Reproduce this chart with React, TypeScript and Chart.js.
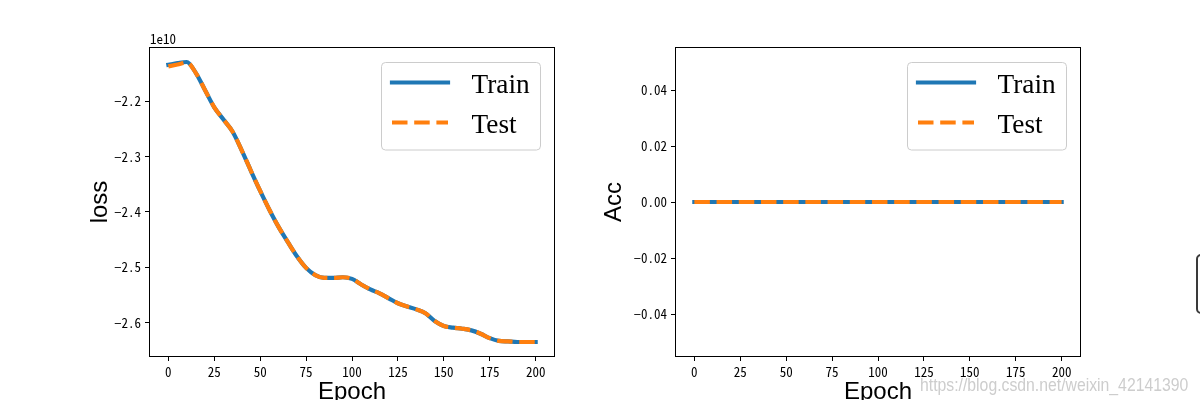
import React, { useEffect, useRef } from "react";
import { Chart, registerables } from "chart.js";

Chart.register(...registerables);

// ---- data -------------------------------------------------------------
const EPOCHS = [
  0, 5, 10, 15, 20, 25, 30, 35, 40, 45, 50, 55, 60, 65, 70, 75, 80, 85, 90, 95, 100,
  105, 110, 115, 120, 125, 130, 135, 140, 145, 150, 155, 160, 165, 170, 175, 180, 185, 190, 195, 200,
];

// loss values are stored in units of 1e10
const LOSS_EXP = 1e10;
const TRAIN_LOSS = [
  -2.134, -2.131, -2.129, -2.149, -2.18, -2.211, -2.233, -2.255, -2.289, -2.326, -2.362,
  -2.396, -2.427, -2.454, -2.48, -2.501, -2.514, -2.519, -2.519, -2.518, -2.521,
  -2.531, -2.54, -2.547, -2.556, -2.565, -2.571, -2.576, -2.583, -2.597, -2.606,
  -2.609, -2.611, -2.614, -2.62, -2.628, -2.633, -2.634, -2.635, -2.635, -2.635,
];
const TEST_LOSS = [
  -2.137, -2.1335, -2.13, -2.149, -2.18, -2.211, -2.233, -2.255, -2.289, -2.326, -2.362,
  -2.396, -2.427, -2.454, -2.48, -2.501, -2.514, -2.519, -2.519, -2.518, -2.521,
  -2.531, -2.54, -2.547, -2.556, -2.565, -2.571, -2.576, -2.583, -2.597, -2.606,
  -2.609, -2.611, -2.614, -2.62, -2.628, -2.633, -2.634, -2.635, -2.635, -2.635,
];
const TRAIN_ACC = [
  0, 0, 0, 0, 0, 0, 0, 0, 0, 0, 0, 0, 0, 0, 0, 0, 0, 0, 0, 0, 0,
  0, 0, 0, 0, 0, 0, 0, 0, 0, 0, 0, 0, 0, 0, 0, 0, 0, 0, 0, 0,
];
const TEST_ACC = [
  0, 0, 0, 0, 0, 0, 0, 0, 0, 0, 0, 0, 0, 0, 0, 0, 0, 0, 0, 0, 0,
  0, 0, 0, 0, 0, 0, 0, 0, 0, 0, 0, 0, 0, 0, 0, 0, 0, 0, 0, 0,
];

const SERIES = ["Train", "Test"];
const EPOCH_TICKS = [0, 25, 50, 75, 100, 125, 150, 175, 200];
const LOSS_TICKS = [-2.6, -2.5, -2.4, -2.3, -2.2];
const ACC_TICKS = [-0.04, -0.02, 0, 0.02, 0.04];
const ACC_LIMIT = 0.055;
const WATERMARK = "https://blog.csdn.net/weixin_42141390";

// ---- style ------------------------------------------------------------
const BLUE = "#1f77b4";
const ORANGE = "#ff7f0e";
const LINE_W = 4.2;
const DASH = [15.5, 6.7];
const TICK_FONT = '"Noto Sans Mono CJK SC", "DejaVu Sans Mono", monospace';
const LABEL_FONT = '"Liberation Sans", Arial, sans-serif';
const LEGEND_FONT = '"Liberation Serif", "Times New Roman", serif';

const fmt = (v: number, digits: number) => {
  const s = Math.abs(v).toFixed(digits);
  return v < -1e-12 ? "\u2212" + s : s;
};

// frame (all four spines), the "1e10" offset label and the boxed legend
function makeOverlay(offsetText: string | null) {
  return {
    id: "axesOverlay",
    afterDatasetsDraw(chart: any) {
      const { ctx, chartArea: a } = chart;
      ctx.save();
      ctx.setLineDash([]);
      ctx.strokeStyle = "#000";
      ctx.lineWidth = 1;
      const l = Math.round(a.left) - 0.5;
      const t = Math.round(a.top) - 0.5;
      const r = Math.round(a.right) + 0.5;
      const b = Math.round(a.bottom) + 0.5;
      ctx.strokeRect(l, t, r - l, b - t);

      if (offsetText) {
        ctx.fillStyle = "#000";
        ctx.font = `13px ${TICK_FONT}`;
        ctx.textAlign = "left";
        ctx.textBaseline = "alphabetic";
        ctx.fillText(offsetText, a.left, a.top - 4.5);
      }

      // legend
      const bw = 159;
      const bh = 87.5;
      const bx = a.right - 13.5 - bw;
      const by = a.top + 14.5;
      ctx.beginPath();
      ctx.roundRect(bx, by, bw, bh, 4);
      ctx.fillStyle = "rgba(255,255,255,0.8)";
      ctx.fill();
      ctx.strokeStyle = "#cccccc";
      ctx.lineWidth = 1;
      ctx.stroke();

      chart.data.datasets.forEach((ds: any, i: number) => {
        const y = by + 20 + 40 * i;
        ctx.beginPath();
        ctx.setLineDash(ds.borderDash || []);
        ctx.lineCap = ds.borderDash ? "butt" : "square";
        ctx.strokeStyle = ds.borderColor;
        ctx.lineWidth = ds.borderWidth;
        ctx.moveTo(bx + 10.5, y);
        ctx.lineTo(bx + 66.5, y);
        ctx.stroke();
        ctx.setLineDash([]);
        ctx.fillStyle = "#000";
        ctx.font = `27.3px ${LEGEND_FONT}`;
        ctx.textAlign = "left";
        ctx.textBaseline = "alphabetic";
        ctx.fillText(ds.label, bx + 90, y + 10.4);
      });
      ctx.restore();
    },
  };
}

function axisCommon(ticks: number[], fmtDigits: number, scaleBy: number) {
  return {
    type: "linear" as const,
    afterBuildTicks: (s: any) => {
      s.ticks = ticks.map((v) => ({ value: v * scaleBy }));
    },
    ticks: {
      color: "#000",
      font: { family: TICK_FONT, size: 13 },
      padding: 4,
      callback: (v: any) => fmt(Number(v) / scaleBy, fmtDigits),
    },
    grid: {
      display: true,
      drawOnChartArea: false,
      drawTicks: true,
      tickLength: 5,
      tickWidth: 1,
      tickColor: "#000",
    },
    border: { display: false },
  };
}

function lineSet(label: string, ys: number[], scaleBy: number, color: string, dashed: boolean) {
  return {
    label,
    data: EPOCHS.map((e, i) => ({ x: e, y: ys[i] * scaleBy })),
    borderColor: color,
    borderWidth: LINE_W,
    borderDash: dashed ? DASH : undefined,
    borderCapStyle: dashed ? "butt" : "square",
    borderJoinStyle: "round",
    pointRadius: 0,
    fill: false,
    cubicInterpolationMode: "monotone",
    order: dashed ? 0 : 1,
  };
}

function buildConfig(opts: {
  train: number[];
  test: number[];
  scaleBy: number;
  yMin: number;
  yMax: number;
  yTicks: number[];
  yDigits: number;
  yTitle: string;
  padLeft: number;
  padRight: number;
  yWidth: number;
  offsetText: string | null;
}) {
  const xAxis: any = {
    ...axisCommon(EPOCH_TICKS, 0, 1),
    min: -10,
    max: 210,
    afterFit: (s: any) => {
      s.height = 44;
    },
    title: {
      display: true,
      text: "Epoch",
      color: "#000",
      font: { family: LABEL_FONT, size: 24 },
      padding: { top: 0, bottom: -6.4 },
    },
  };
  xAxis.ticks = { ...xAxis.ticks, padding: 3 };
  const yAxis: any = {
    ...axisCommon(opts.yTicks, opts.yDigits, opts.scaleBy),
    min: opts.yMin,
    max: opts.yMax,
    afterFit: (s: any) => {
      s.width = opts.yWidth;
    },
    title: {
      display: true,
      text: opts.yTitle,
      color: "#000",
      font: { family: LABEL_FONT, size: 24 },
      padding: { top: 0, bottom: 0 },
    },
  };
  return {
    type: "line" as const,
    data: {
      datasets: [
        lineSet(SERIES[0], opts.train, opts.scaleBy, BLUE, false),
        lineSet(SERIES[1], opts.test, opts.scaleBy, ORANGE, true),
      ],
    },
    options: {
      responsive: false,
      animation: false as const,
      events: [],
      layout: { padding: { left: opts.padLeft, right: opts.padRight, top: 48, bottom: 0 } },
      plugins: { legend: { display: false }, tooltip: { enabled: false } },
      scales: { x: xAxis, y: yAxis },
    },
    plugins: [makeOverlay(opts.offsetText)],
  };
}

function useChart(ref: React.RefObject<HTMLCanvasElement | null>, make: () => any) {
  useEffect(() => {
    if (!ref.current) return;
    const chart = new Chart(ref.current, make());
    return () => chart.destroy();
  }, []);
}

export default function App() {
  const lossRef = useRef<HTMLCanvasElement | null>(null);
  const accRef = useRef<HTMLCanvasElement | null>(null);

  useChart(lossRef, () => {
    const all = [...TRAIN_LOSS, ...TEST_LOSS];
    const lo = Math.min(...all);
    const hi = Math.max(...all);
    const m = (hi - lo) * 0.05;
    return buildConfig({
      train: TRAIN_LOSS,
      test: TEST_LOSS,
      scaleBy: LOSS_EXP,
      yMin: (lo - m) * LOSS_EXP,
      yMax: (hi + m) * LOSS_EXP,
      yTicks: LOSS_TICKS,
      yDigits: 1,
      yTitle: "loss",
      padLeft: 86,
      padRight: 46,
      yWidth: 64,
      offsetText: "1e10",
    });
  });

  useChart(accRef, () =>
    buildConfig({
      train: TRAIN_ACC,
      test: TEST_ACC,
      scaleBy: 1,
      yMin: -ACC_LIMIT,
      yMax: ACC_LIMIT,
      yTicks: ACC_TICKS,
      yDigits: 2,
      yTitle: "Acc",
      padLeft: 0,
      padRight: 120,
      yWidth: 76,
      offsetText: null,
    })
  );

  return (
    <div
      style={{
        position: "fixed",
        left: 0,
        top: 0,
        width: 1200,
        height: 400,
        background: "#fff",
        overflow: "hidden",
      }}
    >
      <canvas ref={lossRef} width={600} height={400} style={{ position: "absolute", left: 0, top: 0 }} />
      <canvas ref={accRef} width={600} height={400} style={{ position: "absolute", left: 600, top: 0 }} />
      <div
        style={{
          position: "absolute",
          left: 920,
          top: 375,
          fontFamily: LABEL_FONT,
          fontSize: 19,
          lineHeight: "19px",
          color: "#cdcdcd",
          whiteSpace: "nowrap",
          transform: "scaleX(0.83)",
          transformOrigin: "left top",
        }}
      >
        {WATERMARK}
      </div>
      <div
        style={{
          position: "absolute",
          left: 1196,
          top: 254,
          width: 12,
          height: 56,
          border: "2px solid #3a3a3a",
          borderRadius: 5,
        }}
      />
    </div>
  );
}
